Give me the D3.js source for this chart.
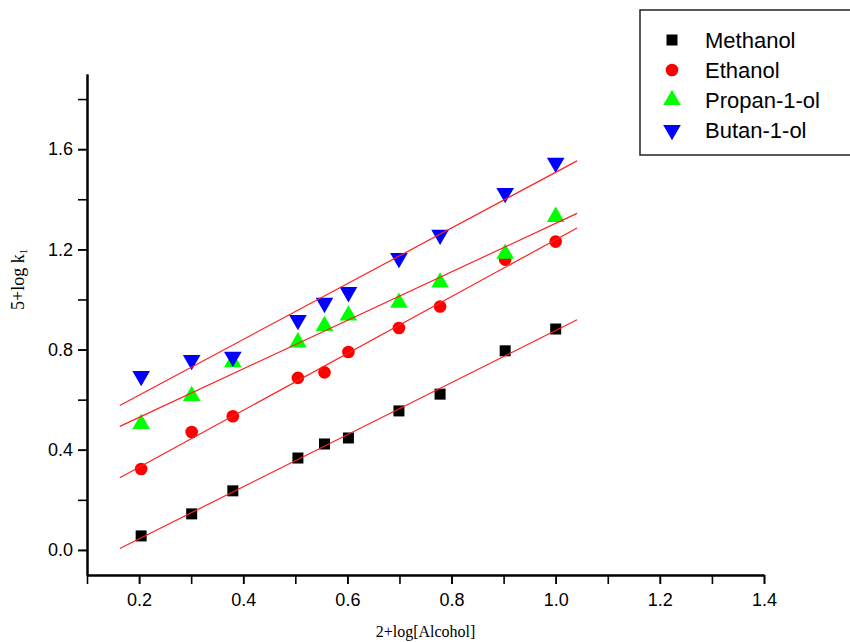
<!DOCTYPE html>
<html>
<head>
<meta charset="utf-8">
<script src="https://cdn.jsdelivr.net/npm/d3@7/dist/d3.min.js"></script>
<style>
  html, body { margin: 0; padding: 0; background: #fff; }
  svg { display: block; }
</style>
</head>
<body>
<svg id="chart" width="850" height="642"></svg>
<script>
// ---- data ----
const xValues = [0.204, 0.301, 0.380, 0.505, 0.556, 0.602, 0.699, 0.778, 0.903, 1.000];
const methanol = [0.056, 0.144, 0.236, 0.367, 0.423, 0.447, 0.555, 0.622, 0.795, 0.882];
const ethanol  = [0.323, 0.471, 0.534, 0.687, 0.709, 0.790, 0.886, 0.972, 1.159, 1.231];
const propanol = [0.503, 0.615, 0.750, 0.829, 0.894, 0.936, 0.987, 1.068, 1.183, 1.330];
const butanol  = [0.694, 0.758, 0.771, 0.918, 0.986, 1.029, 1.165, 1.258, 1.425, 1.545];
const seriesNames = ["Methanol", "Ethanol", "Propan-1-ol", "Butan-1-ol"];
const seriesColors = ["#000000", "#ff0000", "#00ff00", "#0000ff"];
const seriesSymbols = ["square", "circle", "triangleUp", "triangleDown"];
const fitRange = [0.163, 1.041];
const xTicks = [0.2, 0.4, 0.6, 0.8, 1.0, 1.2, 1.4];
const xMinorTicks = [0.1, 0.2, 0.3, 0.4, 0.5, 0.6, 0.7, 0.8, 0.9, 1.0, 1.1, 1.2, 1.3, 1.4];
const yTicks = [0.0, 0.4, 0.8, 1.2, 1.6];
const yMinorTicks = [0.0, 0.2, 0.4, 0.6, 0.8, 1.0, 1.2, 1.4, 1.6, 1.8];

const allSeries = [methanol, ethanol, propanol, butanol];

const svg = d3.select("#chart");
const x = d3.scaleLinear().domain([0.1, 1.4]).range([87, 764]);
const y = d3.scaleLinear().domain([-0.1, 1.9]).range([575, 74]);

// ---- axes ----
const xAxisMinor = d3.axisBottom(x).tickValues(xMinorTicks).tickFormat("").tickSize(9).tickSizeOuter(0);
const xAxis = d3.axisBottom(x).tickValues(xTicks).tickFormat(d3.format(".1f")).tickSize(9).tickSizeOuter(0).tickPadding(9);
const yAxisMinor = d3.axisLeft(y).tickValues(yMinorTicks).tickFormat("").tickSize(9).tickSizeOuter(0);
const yAxis = d3.axisLeft(y).tickValues(yTicks).tickFormat(d3.format(".1f")).tickSize(9).tickSizeOuter(0).tickPadding(5);

function styleAxis(g) {
  g.select(".domain").attr("stroke", "#000").attr("stroke-width", 2);
  g.selectAll(".tick line").attr("stroke", "#000").attr("stroke-width", 1.6);
  g.selectAll(".tick text").attr("fill", "#000")
    .style("font-family", "'Liberation Sans', Arial, sans-serif").style("font-size", "18px");
}

svg.append("g").attr("transform", `translate(0,${y(-0.1)})`).call(xAxisMinor).call(styleAxis);
svg.append("g").attr("transform", `translate(0,${y(-0.1)})`).call(xAxis).call(styleAxis);
svg.append("g").attr("transform", `translate(${x(0.1)},0)`).call(yAxisMinor).call(styleAxis);
svg.append("g").attr("transform", `translate(${x(0.1)},0)`).call(yAxis).call(styleAxis);

// axis titles
svg.append("text")
  .attr("x", (x(0.1) + x(1.4)) / 2).attr("y", 637)
  .attr("text-anchor", "middle")
  .style("font-family", "'Liberation Serif', 'Times New Roman', serif").style("font-size", "16px")
  .text("2+log[Alcohol]");

const yt = svg.append("text")
  .attr("transform", `translate(24,${y(1.08)}) rotate(-90)`)
  .attr("text-anchor", "middle")
  .style("font-family", "'Liberation Serif', 'Times New Roman', serif").style("font-size", "18px");
yt.append("tspan").text("5+log k");
yt.append("tspan").attr("dy", 3).style("font-size", "11px").text("1");

// ---- symbols ----
const symbolMap = {
  square: d3.symbol().type(d3.symbolSquare).size(121),
  circle: d3.symbol().type(d3.symbolCircle).size(125),
  triangleUp: d3.symbol().type(d3.symbolTriangle).size(135),
  triangleDown: d3.symbol().type(d3.symbolTriangle).size(135)
};
function symbolTransform(type, cx, cy) {
  if (type === "triangleDown") return `translate(${cx},${cy}) rotate(180)`;
  return `translate(${cx},${cy})`;
}

// ---- points ----
allSeries.forEach((vals, i) => {
  svg.append("g").selectAll("path")
    .data(vals.map((v, j) => [xValues[j], v]))
    .join("path")
    .attr("d", symbolMap[seriesSymbols[i]])
    .attr("transform", d => symbolTransform(seriesSymbols[i], x(d[0]), y(d[1])))
    .attr("fill", seriesColors[i]);
});

// ---- least-squares fit lines ----
allSeries.forEach(vals => {
  const mx = d3.mean(xValues), my = d3.mean(vals);
  const sxy = d3.sum(xValues, (xv, j) => (xv - mx) * (vals[j] - my));
  const sxx = d3.sum(xValues, xv => (xv - mx) * (xv - mx));
  const b = sxy / sxx, a = my - b * mx;
  svg.append("line")
    .attr("x1", x(fitRange[0])).attr("y1", y(a + b * fitRange[0]))
    .attr("x2", x(fitRange[1])).attr("y2", y(a + b * fitRange[1]))
    .attr("stroke", "#ff2020").attr("stroke-width", 1.2);
});

// ---- legend ----
const lg = svg.append("g");
lg.append("rect").attr("x", 640).attr("y", 10).attr("width", 230).attr("height", 145)
  .attr("fill", "#fff").attr("stroke", "#222").attr("stroke-width", 1.5);
seriesNames.forEach((name, i) => {
  const cy = 40 + i * 30;
  lg.append("path")
    .attr("d", symbolMap[seriesSymbols[i]])
    .attr("transform", symbolTransform(seriesSymbols[i], 672, cy))
    .attr("fill", seriesColors[i]);
  lg.append("text").attr("x", 705).attr("y", cy + 8)
    .style("font-family", "'Liberation Sans', Arial, sans-serif").style("font-size", "22px")
    .attr("fill", "#000")
    .text(name);
});
</script>
</body>
</html>
